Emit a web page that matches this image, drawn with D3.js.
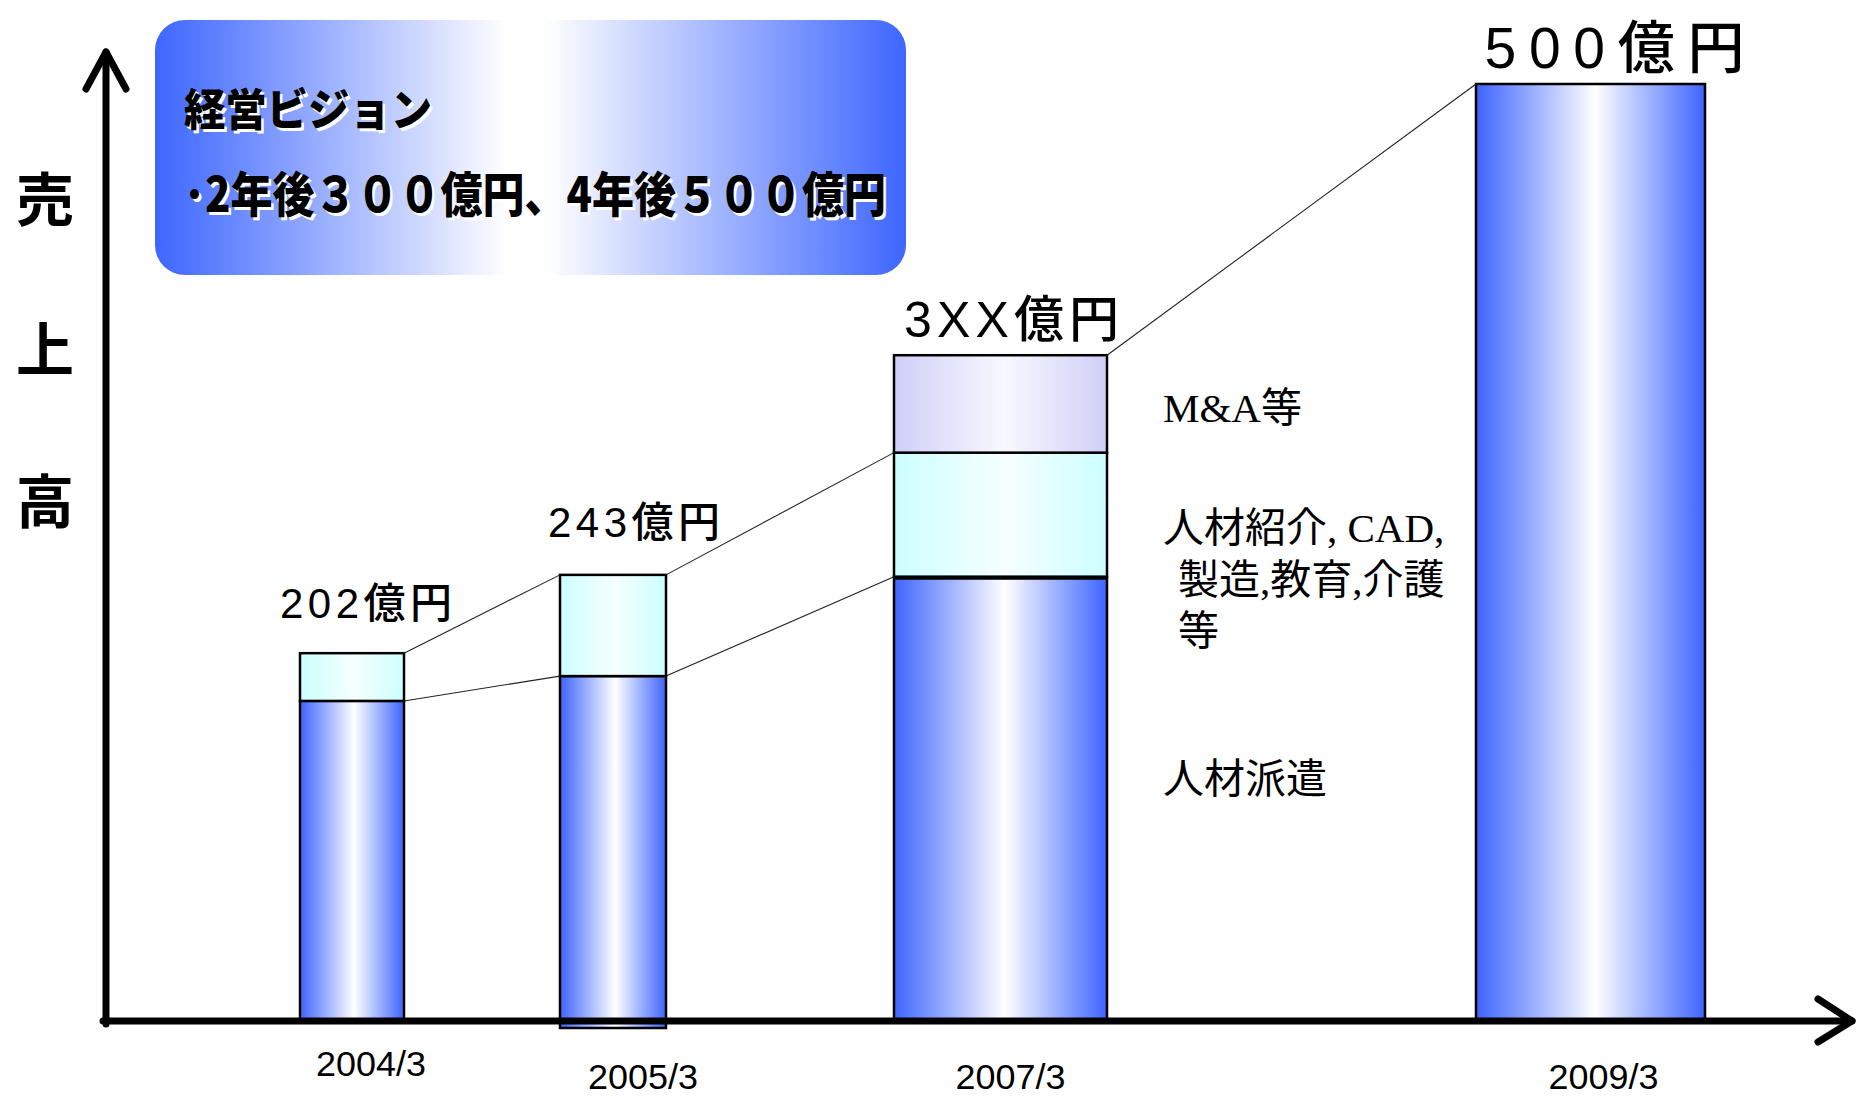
<!DOCTYPE html>
<html lang="ja">
<head>
<meta charset="utf-8">
<script src="https://cdn.jsdelivr.net/npm/d3@7"></script>
<style>
  html, body { margin: 0; padding: 0; background: #fff; }
  svg { display: block; }
</style>
</head>
<body>
<div id="chart"></div>
<script>
// ---- data (売上高, 億円) ----
const categories    = ["2004/3", "2005/3", "2007/3", "2009/3"];
const dispatchSales = [177, 190, 242, 0];   // 人材派遣
const otherHRSales  = [25, 53, 65, 0];      // 人材紹介, CAD, 製造, 教育, 介護 等
const maSales       = [0, 0, 51, 0];        // M&A等
const targetSales   = [0, 0, 0, 500];       // 4年後目標
const totalNumbers  = ["202", "243", "3XX", "500"];
const totalUnit     = "億円";
const tickLabels    = ["2004/3", "2005/3", "2007/3", "2009/3"];
const yAxisTitle    = ["売", "上", "高"];
const segmentNotes  = [
  { text: "M&A等" },
  { text: "人材紹介, CAD," },
  { text: "製造,教育,介護" },
  { text: "等" },
  { text: "人材派遣" }
];
const visionTitle = "経営ビジョン";
const visionLine  = "･2年後３００億円、4年後５００億円";

// ---- layout ----
const W = 1857, H = 1097;
const axisX = 106, axisY = 1021;

const rows = categories.map((c, i) => ({
  cat: c,
  dispatch: dispatchSales[i],
  other: otherHRSales[i],
  ma: maSales[i],
  target: targetSales[i]
}));
const keys = ["dispatch", "other", "ma", "target"];
const stacked = d3.stack().keys(keys)(rows);

const y = d3.scaleLinear().domain([0, 500]).range([1039, 84]);
const xCenter = d3.scaleOrdinal().domain(categories).range([352, 613, 1000.5, 1590.5]);
const barWidth = d3.scaleOrdinal().domain(categories).range([104, 106, 213, 229]);
const barOverhang = d3.scaleOrdinal().domain(categories).range([0, 7, 0, 0]);

const fills = { dispatch: "url(#gBlue)", other: "url(#gCyan)", ma: "url(#gLav)", target: "url(#gBlue)" };

const svg = d3.select("#chart").append("svg")
  .attr("width", W).attr("height", H)
  .attr("viewBox", `0 0 ${W} ${H}`);

const defs = svg.append("defs");
function hGrad(id, edge, mid, midStops) {
  const g = defs.append("linearGradient").attr("id", id)
    .attr("x1", 0).attr("x2", 1).attr("y1", 0).attr("y2", 0);
  g.append("stop").attr("offset", 0).attr("stop-color", edge);
  midStops.forEach(o => g.append("stop").attr("offset", o).attr("stop-color", mid));
  g.append("stop").attr("offset", 1).attr("stop-color", edge);
}
hGrad("gBlue", "#3d64ff", "#ffffff", [0.52]);
hGrad("gCyan", "#ccffff", "#f6ffff", [0.52]);
hGrad("gLav", "#cfcff8", "#f8f8ff", [0.52]);
hGrad("gBox", "#3d66ff", "#ffffff", [0.47, 0.52]);

// ---- vision box ----
svg.append("rect")
  .attr("x", 155).attr("y", 20).attr("width", 751).attr("height", 255)
  .attr("rx", 30).attr("ry", 30)
  .attr("fill", "url(#gBox)");

const boxFont = "'Noto Sans CJK JP', sans-serif";
function shadowText(txt, x, yb, size, len) {
  [["#ffffff", 2.5], ["#000000", 0]].forEach(([col, off]) => {
    svg.append("text")
      .attr("x", x + off).attr("y", yb + off)
      .attr("font-family", boxFont).attr("font-weight", 900)
      .attr("font-size", size)
      .attr("textLength", len).attr("lengthAdjust", "spacingAndGlyphs")
      .attr("fill", col)
      .text(txt);
  });
}
shadowText(visionTitle, 184, 126, 44, 248);
shadowText(visionLine, 184, 212, 48, 702);

// ---- bars ----
const series = svg.append("g").selectAll("g")
  .data(stacked).join("g")
  .attr("fill", d => fills[d.key]);

series.selectAll("rect")
  .data(d => d.filter(s => s[1] - s[0] > 0))
  .join("rect")
  .attr("x", s => xCenter(s.data.cat) - barWidth(s.data.cat) / 2)
  .attr("width", s => barWidth(s.data.cat))
  .attr("y", s => y(s[1]))
  .attr("height", s => (s[0] === 0 ? axisY + barOverhang(s.data.cat) : y(s[0])) - y(s[1]))
  .attr("stroke", "#000")
  .attr("stroke-width", 2.5);

// thicker divider on top of the 2007/3 dispatch segment
svg.append("line")
  .attr("x1", xCenter("2007/3") - barWidth("2007/3") / 2)
  .attr("x2", xCenter("2007/3") + barWidth("2007/3") / 2)
  .attr("y1", y(dispatchSales[2]) + 1).attr("y2", y(dispatchSales[2]) + 1)
  .attr("stroke", "#000").attr("stroke-width", 4);

// ---- connector lines between bars ----
const cum = rows.map(r => ({
  dispatch: r.dispatch,
  other: r.dispatch + r.other,
  total: r.dispatch + r.other + r.ma + r.target
}));
const connectors = [
  { from: 0, to: 1, level: "other" },
  { from: 0, to: 1, level: "dispatch" },
  { from: 1, to: 2, level: "other" },
  { from: 1, to: 2, level: "dispatch" },
  { from: 2, to: 3, level: "total" }
];
const linkLevel = (c, i) => c.level === "total" ? cum[i].total : cum[i][c.level];
svg.append("g").selectAll("line")
  .data(connectors).join("line")
  .attr("x1", c => xCenter(categories[c.from]) + barWidth(categories[c.from]) / 2)
  .attr("y1", c => y(c.from === 1 && c.level === "other" ? cum[1].total : linkLevel(c, c.from)))
  .attr("x2", c => xCenter(categories[c.to]) - barWidth(categories[c.to]) / 2)
  .attr("y2", c => y(linkLevel(c, c.to)))
  .attr("stroke", "#222").attr("stroke-width", 1.1);

// ---- total value labels ----
const labelStyle = [
  { dx: 14, dy: -35, size: 42, len: 172 },
  { dx: 21, dy: -38, size: 42, len: 172 },
  { dx: 11, dy: -18, size: 50, len: 215 },
  { dx: 24, dy: -16, size: 57, len: 260 }
];
const totals = svg.append("g").selectAll("text")
  .data(categories).join("text")
  .attr("x", (c, i) => xCenter(c) + labelStyle[i].dx - labelStyle[i].len / 2)
  .attr("y", (c, i) => y(cum[i].total) + labelStyle[i].dy)
  .attr("font-size", (c, i) => labelStyle[i].size)
  .attr("textLength", (c, i) => labelStyle[i].len)
  .attr("lengthAdjust", "spacing")
  .attr("fill", "#000");
totals.append("tspan")
  .attr("font-family", "'Liberation Sans', Arial, sans-serif")
  .text((c, i) => totalNumbers[i]);
totals.append("tspan")
  .attr("font-family", "'Noto Sans CJK JP', sans-serif")
  .attr("font-weight", 500)
  .text(totalUnit);

// ---- segment notes beside the 2007/3 bar ----
const noteFont = "'Liberation Serif', 'Noto Sans CJK JP', serif";
const notePos = [
  { x: 1163, y: 422 },
  { x: 1163, y: 542 },
  { x: 1178, y: 594 },
  { x: 1178, y: 645 },
  { x: 1163, y: 793 }
];
svg.append("g").selectAll("text")
  .data(segmentNotes).join("text")
  .attr("x", (d, i) => notePos[i].x)
  .attr("y", (d, i) => notePos[i].y)
  .attr("font-family", noteFont)
  .attr("font-size", 41)
  .attr("fill", "#000")
  .text(d => d.text);

// ---- category tick labels ----
const tickStyle = [
  { dx: 19, y: 1076 },
  { dx: 30, y: 1089 },
  { dx: 10, y: 1089 },
  { dx: 13, y: 1089 }
];
svg.append("g").selectAll("text")
  .data(categories).join("text")
  .attr("x", (c, i) => xCenter(c) + tickStyle[i].dx)
  .attr("y", (c, i) => tickStyle[i].y)
  .attr("text-anchor", "middle")
  .attr("font-family", "'Liberation Sans', Arial, sans-serif")
  .attr("font-size", 35)
  .attr("textLength", 110)
  .attr("lengthAdjust", "spacingAndGlyphs")
  .attr("fill", "#000")
  .text((c, i) => tickLabels[i]);

// ---- y-axis title (vertical) ----
svg.append("g").selectAll("text")
  .data(yAxisTitle).join("text")
  .attr("x", 45)
  .attr("y", (d, i) => [221, 371, 523][i])
  .attr("text-anchor", "middle")
  .attr("font-family", "'Noto Sans CJK JP', sans-serif")
  .attr("font-weight", 700)
  .attr("font-size", 58)
  .attr("fill", "#000")
  .text(d => d);

// ---- axes with open arrowheads ----
const axes = svg.append("g")
  .attr("stroke", "#000").attr("stroke-width", 7)
  .attr("stroke-linecap", "round").attr("stroke-linejoin", "round")
  .attr("fill", "none");
axes.append("line").attr("x1", axisX).attr("y1", axisY + 3).attr("x2", axisX).attr("y2", 52);
axes.append("polyline").attr("points", `${axisX - 20},89 ${axisX},52 ${axisX + 20},89`);
axes.append("line").attr("x1", axisX - 3).attr("y1", axisY).attr("x2", 1852).attr("y2", axisY);
axes.append("polyline").attr("points", `1818,999 1852,${axisY} 1818,1042`);
</script>
</body>
</html>
